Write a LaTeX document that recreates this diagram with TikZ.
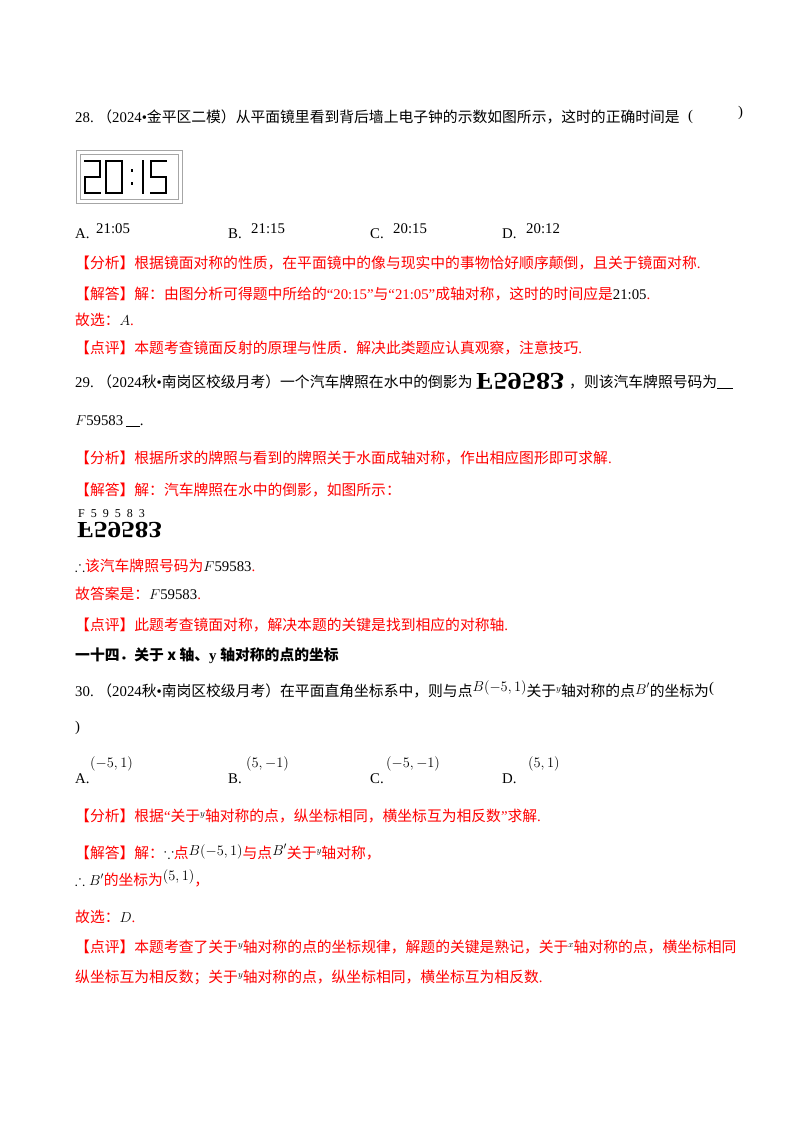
\documentclass[tikz,border=0pt]{standalone}
\usepackage{amsmath,amssymb}
\usepackage{fontspec}
\setmainfont{Liberation Serif}
\newfontfamily\cjk{Noto Sans CJK SC}
\newfontfamily\lat{Liberation Serif}
\XeTeXinterchartokenstate=1
\newXeTeXintercharclass\cjkclass
\makeatletter
\count@="4E00 \loop \XeTeXcharclass\count@=\cjkclass \ifnum\count@<"9FFF \advance\count@ 1 \repeat
\count@="3000 \loop \XeTeXcharclass\count@=\cjkclass \ifnum\count@<"303F \advance\count@ 1 \repeat
\count@="FF00 \loop \XeTeXcharclass\count@=\cjkclass \ifnum\count@<"FFEF \advance\count@ 1 \repeat
\makeatother
\XeTeXinterchartoks 0 \cjkclass = {\cjk}
\XeTeXinterchartoks 4095 \cjkclass = {\cjk}
\XeTeXinterchartoks \cjkclass 0 = {\lat}
\definecolor{red}{RGB}{255,0,0}
\newcommand{\bk}[1]{\textcolor{black}{\lat #1}}
\begin{document}
\begin{tikzpicture}[x=1pt,y=-1pt,
  t/.style={anchor=base west,inner sep=0pt,font=\fontsize{14.8}{17}\selectfont},
  r/.style={t,text=red},
  seg/.style={line width=2.2pt,line cap=rect}]
\useasboundingbox[fill=white] (0,0) rectangle (800,1132);
% Q28
\node[t] (q28) at (75,122) {28.\ （2024•金平区二模）从平面镜里看到背后墙上电子钟的示数如图所示，这时的正确时间是};
\node[t] (p28a) at (688,120) {(};
\node[t] (p28b) at (738,116) {)};
% clock
\draw[gray!70,line width=1pt] (76,150) rectangle (182,203);
\draw[gray!70,line width=0.8pt] (80,154) rectangle (178,199);
\draw[seg] (85,161) -- (100,161) -- (100,177) -- (85,177) -- (85,193) -- (100,193);
\draw[seg] (106,161) rectangle (122,193);
\fill (131,169) rectangle (133,172);
\fill (131,182) rectangle (133,185);
\draw[seg] (143,161) -- (143,193);
\draw[seg] (166,161) -- (151,161) -- (151,177) -- (166,177) -- (166,193) -- (151,193);
% options
\node[t] (a28) at (75,238) {A.};
\node[t] (a28v) at (96,233) {21:05};
\node[t] (b28) at (228,238) {B.};
\node[t] (b28v) at (251,233) {21:15};
\node[t] (c28) at (370,238) {C.};
\node[t] (c28v) at (393,233) {20:15};
\node[t] (d28) at (502,238) {D.};
\node[t] (d28v) at (526,233) {20:12};
\node[r] (f28) at (75,268) {【分析】根据镜面对称的性质，在平面镜中的像与现实中的事物恰好顺序颠倒，且关于镜面对称{\lat .}};
\node[r] (s28) at (75,299) {【解答】解：由图分析可得题中所给的{\lat “20:15”}与{\lat “21:05”}成轴对称，这时的时间应是\bk{21:05}{\lat .}};
\node[r] (g28) at (75,325) {故选：\textcolor{black}{$A$}{\lat .}};
\node[r] (e28) at (75,353) {【点评】本题考查镜面反射的原理与性质．解决此类题应认真观察，注意技巧{\lat .}};
% Q29
\node[t] (q29) at (75,387) {29.\ （2024秋•南岗区校级月考）一个汽车牌照在水中的倒影为};
\node[t,anchor=north west] (pl1) at (476,373) {\fontsize{21}{21}\selectfont\bfseries\scalebox{1.35}[-1.15]{F59583}};
\node[t] (q29b) at (569,387) {，则该汽车牌照号码为\rule[-2pt]{16pt}{0.6pt}};
\node[t] (ans29) at (75,425) {$F$59583\,\rule[-2pt]{14pt}{0.6pt}.};
\node[r] (f29) at (75,463) {【分析】根据所求的牌照与看到的牌照关于水面成轴对称，作出相应图形即可求解{\lat .}};
\node[r] (s29) at (75,495) {【解答】解：汽车牌照在水中的倒影，如图所示：};
\node[t] (pl2a) at (78,517) {\fontsize{12}{12}\selectfont F\ \ 5\ \ 9\ \ 5\ \ 8\ \ 3};
\node[t,anchor=north west] (pl2b) at (77,522) {\fontsize{21}{21}\selectfont\bfseries\scalebox{1.3}[-1.1]{F59583}};
\node[r] (th29) at (75,571) {\textcolor{black}{$\therefore$}该汽车牌照号码为\textcolor{black}{$F$\lat 59583}{\lat .}};
\node[r] (g29) at (75,599) {故答案是：\textcolor{black}{$F$\lat 59583}{\lat .}};
\node[r] (e29) at (75,630) {【点评】此题考查镜面对称，解决本题的关键是找到相应的对称轴{\lat .}};
% heading
\node[t,font=\fontsize{14.8}{17}\selectfont\bfseries] (h14) at (75,660) {一十四．关于 x 轴、y 轴对称的点的坐标};
% Q30
\node[t] (q30) at (75,696) {30.\ （2024秋•南岗区校级月考）在平面直角坐标系中，则与点\raisebox{5pt}{$B(-5,1)$}关于\raisebox{5pt}{\small$y$}轴对称的点\raisebox{2pt}{$B'$}的坐标为};
\node[t] (p30a) at (709,692) {(};
\node[t] (p30b) at (75,731) {)};
\node[t] (a30) at (75,783) {A.};
\node[t] (a30v) at (90,767) {$(-5,1)$};
\node[t] (b30) at (228,783) {B.};
\node[t] (b30v) at (246,767) {$(5,-1)$};
\node[t] (c30) at (370,783) {C.};
\node[t] (c30v) at (386,767) {$(-5,-1)$};
\node[t] (d30) at (502,783) {D.};
\node[t] (d30v) at (528,767) {$(5,1)$};
\node[r] (f30) at (75,821) {【分析】根据{\lat “}关于\textcolor{black}{\raisebox{5pt}{\small$y$}}轴对称的点，纵坐标相同，横坐标互为相反数{\lat ”}求解{\lat .}};
\node[r] (s30) at (75,858) {【解答】解：\textcolor{black}{$\because$}点\textcolor{black}{\raisebox{3pt}{$B(-5,1)$}}与点\textcolor{black}{\raisebox{3pt}{$B'$}}关于\textcolor{black}{\raisebox{5pt}{\small$y$}}轴对称，};
\node[r] (th30) at (75,885) {\textcolor{black}{$\therefore B'$}的坐标为\textcolor{black}{\raisebox{5pt}{$(5,1)$}}，};
\node[r] (g30) at (75,922) {故选：\textcolor{black}{$D$}{\lat .}};
\node[r] (e30) at (75,952) {【点评】本题考查了关于\textcolor{black}{\raisebox{5pt}{\small$y$}}轴对称的点的坐标规律，解题的关键是熟记，关于\textcolor{black}{\raisebox{5pt}{\small$x$}}轴对称的点，横坐标相同};
\node[r] (e30b) at (75,982) {纵坐标互为相反数；关于\textcolor{black}{\raisebox{5pt}{\small$y$}}轴对称的点，纵坐标相同，横坐标互为相反数{\lat .}};
\end{tikzpicture}
\end{document}
